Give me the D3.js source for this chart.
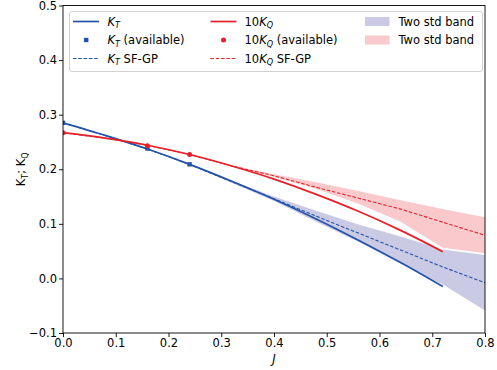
<!DOCTYPE html>
<html>
<head>
<meta charset="utf-8">
<script src="https://cdn.jsdelivr.net/npm/d3@7"></script>
<style>
  body { margin: 0; background: #fff; }
  svg { display: block; font-family: "DejaVu Sans", sans-serif; }
</style>
</head>
<body>
<div id="chart"></div>
<script>
// measured curves (J vs thrust / 10x torque coefficient)
const J_curve = [0, 0.08, 0.16, 0.24, 0.32, 0.40, 0.48, 0.56, 0.64, 0.72];
const KT_curve = [0.285, 0.262, 0.237, 0.209, 0.178, 0.145, 0.109, 0.070, 0.029, -0.015];
const KQ10_curve = [0.267, 0.257, 0.244, 0.227, 0.206, 0.182, 0.154, 0.123, 0.088, 0.049];

// available points
const J_avail = [0, 0.16, 0.24];
const KT_avail = [0.285, 0.238, 0.209];
const KQ10_avail = [0.267, 0.243, 0.227];

// SF-GP prediction and two std band
const J_gp = [0, 0.08, 0.16, 0.24, 0.32, 0.40, 0.48, 0.56, 0.64, 0.72, 0.80];
const KT_gp = [0.285, 0.262, 0.237, 0.209, 0.177, 0.146, 0.114, 0.083, 0.052, 0.021, -0.008];
const KT_lo = [0.285, 0.262, 0.237, 0.209, 0.175, 0.142, 0.104, 0.067, 0.027, -0.011, -0.059];
const KT_hi = [0.285, 0.262, 0.237, 0.209, 0.179, 0.150, 0.124, 0.099, 0.077, 0.053, 0.043];
const KQ10_gp = [0.267, 0.257, 0.244, 0.227, 0.206, 0.188, 0.167, 0.147, 0.127, 0.103, 0.079];
const KQ10_lo = [0.267, 0.257, 0.244, 0.227, 0.205, 0.186, 0.164, 0.137, 0.104, 0.056, 0.046];
const KQ10_hi = [0.267, 0.257, 0.244, 0.227, 0.207, 0.191, 0.176, 0.160, 0.143, 0.127, 0.112];

const xTicks = [0, 0.1, 0.2, 0.3, 0.4, 0.5, 0.6, 0.7, 0.8];
const yTicks = [-0.1, 0, 0.1, 0.2, 0.3, 0.4, 0.5];

const blue = '#2353a8', red = '#e8202a';
const blueBand = '#cbcae5', redBand = '#f9c9cc';
const fs = 11.5; // font size in px

const width = 497, height = 370;
const margin = {top: 5.5, right: 12, bottom: 37, left: 63};
const w = width - margin.left - margin.right;
const h = height - margin.top - margin.bottom;

const svg = d3.select('#chart').append('svg')
  .attr('width', width).attr('height', height);

const x = d3.scaleLinear().domain([0, 0.8]).range([0, w]);
const y = d3.scaleLinear().domain([-0.1, 0.5]).range([h, 0]);

const g = svg.append('g')
  .attr('transform', 'translate(' + margin.left + ',' + margin.top + ')');

g.append('defs').append('clipPath').attr('id', 'clip')
  .append('rect').attr('width', w).attr('height', h);

const plot = g.append('g').attr('clip-path', 'url(#clip)');

// bands
function band(lo, hi, color) {
  const idx = d3.range(3, J_gp.length); // starts where GP leaves the data
  plot.append('path')
    .datum(idx)
    .attr('fill', color)
    .attr('d', d3.area()
      .x(i => x(J_gp[i]))
      .y0(i => y(lo[i]))
      .y1(i => y(hi[i])));
}
band(KT_lo, KT_hi, blueBand);
band(KQ10_lo, KQ10_hi, redBand);

// lines
function line(xs, ys, color, dashed, curve) {
  plot.append('path')
    .datum(d3.range(xs.length))
    .attr('fill', 'none')
    .attr('stroke', color)
    .attr('stroke-width', dashed ? 1.1 : 1.7)
    .attr('stroke-dasharray', dashed ? '3.5,1.8' : null)
    .attr('d', d3.line()
      .curve(curve || d3.curveLinear)
      .x(i => x(xs[i]))
      .y(i => y(ys[i])));
}
line(J_gp, KT_gp, blue, true);
line(J_gp, KQ10_gp, red, true);
line(J_curve, KT_curve, blue, false, d3.curveMonotoneX);
line(J_curve, KQ10_curve, red, false, d3.curveMonotoneX);

// available points
plot.selectAll('.sq').data(J_avail).enter().append('rect')
  .attr('x', d => x(d) - 2.2)
  .attr('y', (d, i) => y(KT_avail[i]) - 2.2)
  .attr('width', 4.4).attr('height', 4.4)
  .attr('fill', blue);
plot.selectAll('.dot').data(J_avail).enter().append('circle')
  .attr('cx', d => x(d))
  .attr('cy', (d, i) => y(KQ10_avail[i]))
  .attr('r', 2.5)
  .attr('fill', red);

// axes
const fmt = d => d3.format('.1f')(d).replace('-', '\u2212');
g.append('g')
  .attr('transform', 'translate(0,' + h + ')')
  .call(d3.axisBottom(x).tickValues(xTicks).tickFormat(fmt).tickSizeOuter(0).tickSize(4).tickPadding(2));
g.append('g')
  .call(d3.axisLeft(y).tickValues(yTicks).tickFormat(fmt).tickSizeOuter(0).tickSize(4).tickPadding(2));
g.selectAll('.tick text').attr('font-size', fs).attr('fill', '#000')
  .attr('font-family', '"DejaVu Sans", sans-serif');
g.selectAll('.domain').remove();
g.selectAll('.tick line').attr('stroke', '#000').attr('stroke-width', 0.9);

g.append('rect')
  .attr('width', w).attr('height', h)
  .attr('fill', 'none').attr('stroke', '#000').attr('stroke-width', 0.9);

// axis labels
svg.append('text')
  .attr('x', margin.left + w / 2).attr('y', 363)
  .attr('text-anchor', 'middle').attr('font-size', fs)
  .attr('font-style', 'italic').text('J');

const yl = svg.append('text')
  .attr('transform', 'translate(25,' + (margin.top + h / 2) + ') rotate(-90)')
  .attr('text-anchor', 'middle').attr('font-size', fs);
yl.append('tspan').text('K');
yl.append('tspan').attr('font-size', fs * 0.7).attr('dy', 2.5).text('T');
yl.append('tspan').attr('dy', -2.5).text('; K');
yl.append('tspan').attr('font-size', fs * 0.7).attr('dy', 2.5).text('Q');

// legend
const lg = svg.append('g').attr('transform', 'translate(69.5,11.5)');
lg.append('rect')
  .attr('width', 413).attr('height', 60).attr('rx', 2.5)
  .attr('fill', '#fff').attr('fill-opacity', 0.8)
  .attr('stroke', '#cccccc').attr('stroke-width', 0.9);

const rows = [10, 28.5, 47];
function label(tx, ty, pre, sub, post) {
  const t = lg.append('text').attr('x', tx).attr('y', ty + 4).attr('font-size', fs);
  if (pre) t.append('tspan').text(pre);
  t.append('tspan').attr('font-style', 'italic').text('K');
  t.append('tspan').attr('font-style', 'italic').attr('font-size', fs * 0.7).attr('dy', 2.5).text(sub);
  if (post) t.append('tspan').attr('dy', -2.5).text(post);
}
function legLine(x0, ty, color, dashed) {
  lg.append('line').attr('x1', x0).attr('x2', x0 + 26).attr('y1', ty).attr('y2', ty)
    .attr('stroke', color).attr('stroke-width', dashed ? 1.1 : 1.7)
    .attr('stroke-dasharray', dashed ? '3.5,1.8' : null);
}
// column 1
legLine(3.5, rows[0], blue, false);
label(38, rows[0], '', 'T', '');
lg.append('rect').attr('x', 14.5).attr('y', rows[1] - 2.2).attr('width', 4.4).attr('height', 4.4).attr('fill', blue);
label(38, rows[1], '', 'T', ' (available)');
legLine(3.5, rows[2], blue, true);
label(38, rows[2], '', 'T', ' SF-GP');
// column 2
legLine(141, rows[0], red, false);
label(175, rows[0], '10', 'Q', '');
lg.append('circle').attr('cx', 154).attr('cy', rows[1]).attr('r', 2.5).attr('fill', red);
label(175, rows[1], '10', 'Q', ' (available)');
legLine(141, rows[2], red, true);
label(175, rows[2], '10', 'Q', ' SF-GP');
// column 3
lg.append('rect').attr('x', 295.5).attr('y', rows[0] - 4.5).attr('width', 24.5).attr('height', 9).attr('fill', blueBand);
lg.append('text').attr('x', 329).attr('y', rows[0] + 4).attr('font-size', fs).text('Two std band');
lg.append('rect').attr('x', 295.5).attr('y', rows[1] - 4.5).attr('width', 24.5).attr('height', 9).attr('fill', redBand);
lg.append('text').attr('x', 329).attr('y', rows[1] + 4).attr('font-size', fs).text('Two std band');
</script>
</body>
</html>
